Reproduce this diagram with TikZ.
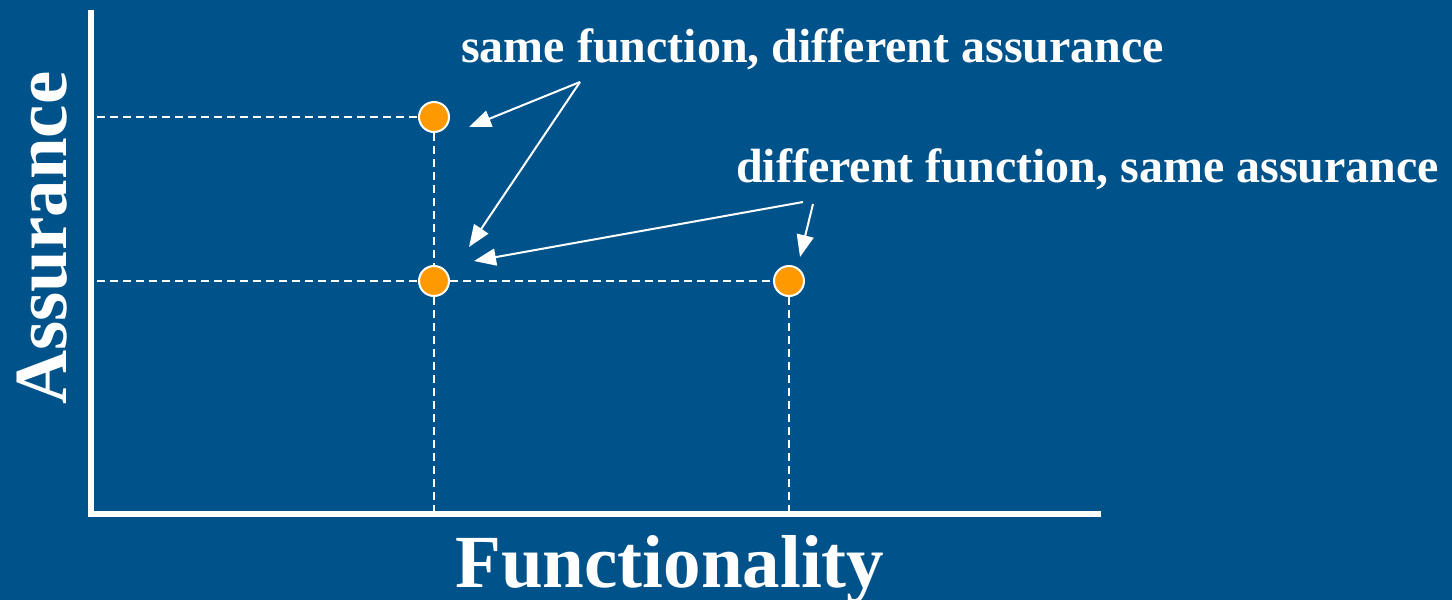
\documentclass[tikz,border=0pt]{standalone}
\usepackage{fontspec}
\setmainfont{Liberation Serif}
\usetikzlibrary{arrows.meta}
\definecolor{bgblue}{RGB}{0,83,138}
\definecolor{dotorange}{RGB}{255,153,0}
\tikzset{
  axisline/.style={draw=white,line width=6pt},
  guide/.style={draw=white,line width=1.6pt,dash pattern=on 8pt off 5pt},
  dot/.style={circle,fill=dotorange,draw=white,line width=2pt,minimum size=30pt,inner sep=0pt},
  pointer/.style={draw=white,line width=2pt,-{Triangle[length=22pt,width=17pt]}},
  lbl/.style={text=white,font=\fontsize{48}{58}\selectfont\bfseries,inner sep=0pt,anchor=base west},
  axlbl/.style={text=white,font=\fontsize{75}{90}\selectfont\bfseries,inner sep=0pt},
}
\begin{document}
\begin{tikzpicture}[x=1pt,y=-1pt]
\fill[bgblue] (0,0) rectangle (1452,600);
\useasboundingbox (0,0) rectangle (1452,600);
% axes
\coordinate (top) at (91,10);
\coordinate (origin) at (91,514);
\coordinate (xend) at (1101,514);
\draw[axisline] (top) -- (origin) -- (xend);
% guide ends
\coordinate (ya) at (97,117);
\coordinate (yb) at (97,281);
\coordinate (xa) at (434,511);
\coordinate (xb) at (789,511);
% dots
\node[dot] (p1) at (434,117) {};
\node[dot] (p2) at (434,281) {};
\node[dot] (p3) at (789,281) {};
\draw[guide] (ya) -- (p1.west);
\draw[guide] (yb) -- (p2.west);
\draw[guide] (p2.east) -- (p3.west);
\draw[guide] (p1.south) -- (p2.north);
\draw[guide] (p2.south) -- (xa);
\draw[guide] (p3.south) -- (xb);
% labels
\node[lbl] (l1) at (461,62) {same function, different assurance};
\node[lbl] (l2) at (736,182) {different function, same assurance};
\node[axlbl,anchor=base west] (fx) at (455,587) {Functionality};
\node[axlbl,anchor=base west,rotate=90] (fy) at (66,405) {Assurance};
% arrows
\coordinate (s1) at (580,82);
\coordinate (s2) at (803,202);
\coordinate (s3) at (813,204);
\coordinate (t1) at (469,127);
\coordinate (t2) at (469,247);
\coordinate (t3) at (474,261);
\coordinate (t4) at (800,257);
\draw[pointer] (s1) -- (t1);
\draw[pointer] (s1) -- (t2);
\draw[pointer] (s2) -- (t3);
\draw[pointer] (s3) -- (t4);
\end{tikzpicture}
\end{document}
